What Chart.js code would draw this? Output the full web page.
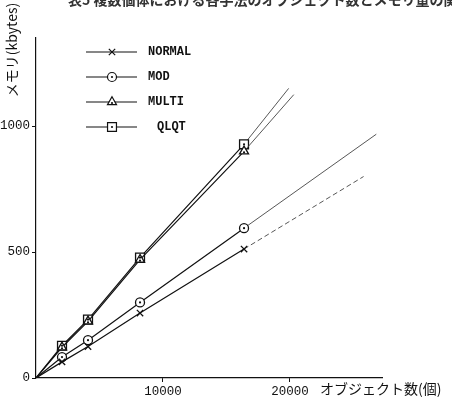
<!DOCTYPE html>
<html>
<head>
<meta charset="utf-8">
<script src="https://cdn.jsdelivr.net/npm/chart.js@4/dist/chart.umd.min.js"></script>
<style>
  body { margin: 0; background: #fff; }
  canvas { display: block; }
</style>
</head>
<body>
<canvas id="memChart" width="452" height="403"></canvas>
<script>
// オブジェクト数 (0 = 原点)
const objectCounts = [0, 2048, 4096, 8192, 16384];
const seriesNames = ['NORMAL', 'MOD', 'MULTI', 'QLQT'];
// メモリ (kbytes)
const normalMem = [0, 64, 125, 258, 512];
const modMem = [0, 83, 150, 300, 595];
const multiMem = [0, 122, 225, 470, 900];
const qlqtMem = [0, 128, 232, 478, 928];
// 延長線の終点 [オブジェクト数, メモリ]
const normalExt = [25800, 800];
const modExt = [26800, 968];
const multiExt = [20300, 1125];
const qlqtExt = [19900, 1150];
const yTickValues = [0, 500, 1000];
const xTickValues = [10000, 20000];

const ink = '#111';
const monoFont = "'Liberation Mono', 'DejaVu Sans Mono', monospace";
const jpFont = "'Noto Sans CJK JP', sans-serif";

function toPoints(mem, ext) {
    const pts = objectCounts.map((c, i) => ({ x: c, y: mem[i] }));
    pts.push({ x: ext[0], y: ext[1] });
    return pts;
}

function makeDataset(label, mem, ext, style, radius, dashExt, centerDot) {
    const last = objectCounts.length; // 延長線の終点
    return {
        label: label,
        data: toPoints(mem, ext),
        borderColor: ink,
        borderWidth: 1.2,
        pointStyle: style,
        pointRadius: ctx => (ctx.dataIndex === 0 || ctx.dataIndex === last) ? 0 : radius,
        pointBackgroundColor: '#fff',
        pointBorderColor: ink,
        pointBorderWidth: 1.3,
        centerDot: centerDot,
        segment: {
            borderDash: ctx => (ctx.p1DataIndex === last && dashExt) ? [5, 3] : undefined,
            borderColor: ctx => ctx.p1DataIndex === last ? '#444' : undefined,
            borderWidth: ctx => ctx.p1DataIndex === last ? 0.9 : undefined
        }
    };
}

const decorPlugin = {
    id: 'decor',
    afterDatasetsDraw(chart) {
        const ctx = chart.ctx;
        ctx.save();
        ctx.fillStyle = ink;
        chart.data.datasets.forEach((ds, i) => {
            if (!ds.centerDot) return;
            chart.getDatasetMeta(i).data.forEach(pt => {
                if (!pt.options.radius) return;
                ctx.beginPath();
                ctx.arc(pt.x, pt.y + (ds.pointStyle === 'triangle' ? 1 : 0), 1.1, 0, Math.PI * 2);
                ctx.fill();
            });
        });
        ctx.restore();
    },
    afterDraw(chart) {
        const ctx = chart.ctx;
        ctx.save();

        // 上端で切れている表題
        ctx.fillStyle = '#333';
        ctx.font = 'bold 14px ' + jpFont;
        ctx.textAlign = 'left';
        ctx.textBaseline = 'middle';
        ctx.fillText('表5 複数個体における各手法のオブジェクト数とメモリ量の関係', 68, 0);

        // 軸タイトル
        ctx.fillStyle = ink;
        ctx.font = '14px ' + jpFont;
        const xs = chart.scales.x;
        ctx.textAlign = 'left';
        ctx.fillText('オブジェクト数(個)', xs.getPixelForValue(20000) + 30, 389);

        ctx.translate(12, 50);
        ctx.rotate(-Math.PI / 2);
        ctx.textAlign = 'center';
        ctx.fillText('メモリ(kbytes)', 0, 0);
        ctx.setTransform(1, 0, 0, 1, 0, 0);

        // 凡例
        chart.data.datasets.forEach((ds, i) => {
            const y = 52 + i * 25;
            ctx.strokeStyle = ink;
            ctx.lineWidth = 1.2;
            ctx.beginPath();
            ctx.moveTo(86, y);
            ctx.lineTo(137, y);
            ctx.stroke();
            ctx.fillStyle = '#fff';
            const r = ds.pointStyle === 'rect' ? 6.3 : (ds.pointStyle === 'triangle' ? 5.2 : 4.5);
            Chart.helpers.drawPoint(ctx, { pointStyle: ds.pointStyle, radius: r, rotation: 0, borderWidth: 1.3 }, 112, y);
            ctx.fillStyle = ink;
            if (ds.centerDot) {
                ctx.beginPath();
                ctx.arc(112, y + (ds.pointStyle === 'triangle' ? 1 : 0), 1.1, 0, Math.PI * 2);
                ctx.fill();
            }
            ctx.font = 'bold 12px ' + monoFont;
            ctx.textAlign = 'left';
            ctx.textBaseline = 'middle';
            ctx.fillText(ds.label, ds.label === 'QLQT' ? 157 : 148, y);
        });
        ctx.restore();
    }
};

new Chart(document.getElementById('memChart').getContext('2d'), {
    type: 'line',
    data: {
        datasets: [
            makeDataset(seriesNames[0], normalMem, normalExt, 'crossRot', 4.5, true, false),
            makeDataset(seriesNames[1], modMem, modExt, 'circle', 4.5, false, true),
            makeDataset(seriesNames[2], multiMem, multiExt, 'triangle', 5.2, false, true),
            makeDataset(seriesNames[3], qlqtMem, qlqtExt, 'rect', 6.3, false, true)
        ]
    },
    options: {
        responsive: false,
        animation: false,
        layout: { padding: { top: 38, right: 70, left: 0, bottom: 0 } },
        plugins: {
            legend: { display: false },
            tooltip: { enabled: false }
        },
        scales: {
            x: {
                type: 'linear',
                min: 0,
                max: 27250,
                afterBuildTicks: scale => { scale.ticks = xTickValues.map(v => ({ value: v })); },
                afterFit: scale => { scale.height = 25; },
                border: { display: true, color: ink, width: 1.2 },
                grid: { display: true, drawOnChartArea: false, tickLength: 4, color: ink },
                ticks: {
                    color: ink,
                    padding: 2,
                    maxRotation: 0,
                    font: { family: monoFont, size: 12.5 },
                    callback: v => String(v)
                }
            },
            y: {
                type: 'linear',
                min: 0,
                max: 1350,
                afterBuildTicks: scale => { scale.ticks = yTickValues.map(v => ({ value: v })); },
                afterFit: scale => { scale.width = 36; },
                border: { display: true, color: ink, width: 1.2 },
                grid: { display: true, drawOnChartArea: false, tickLength: 4, color: ink },
                ticks: {
                    color: ink,
                    padding: 2,
                    font: { family: monoFont, size: 12.5 },
                    callback: v => String(v)
                }
            }
        }
    },
    plugins: [decorPlugin]
});
</script>
</body>
</html>
